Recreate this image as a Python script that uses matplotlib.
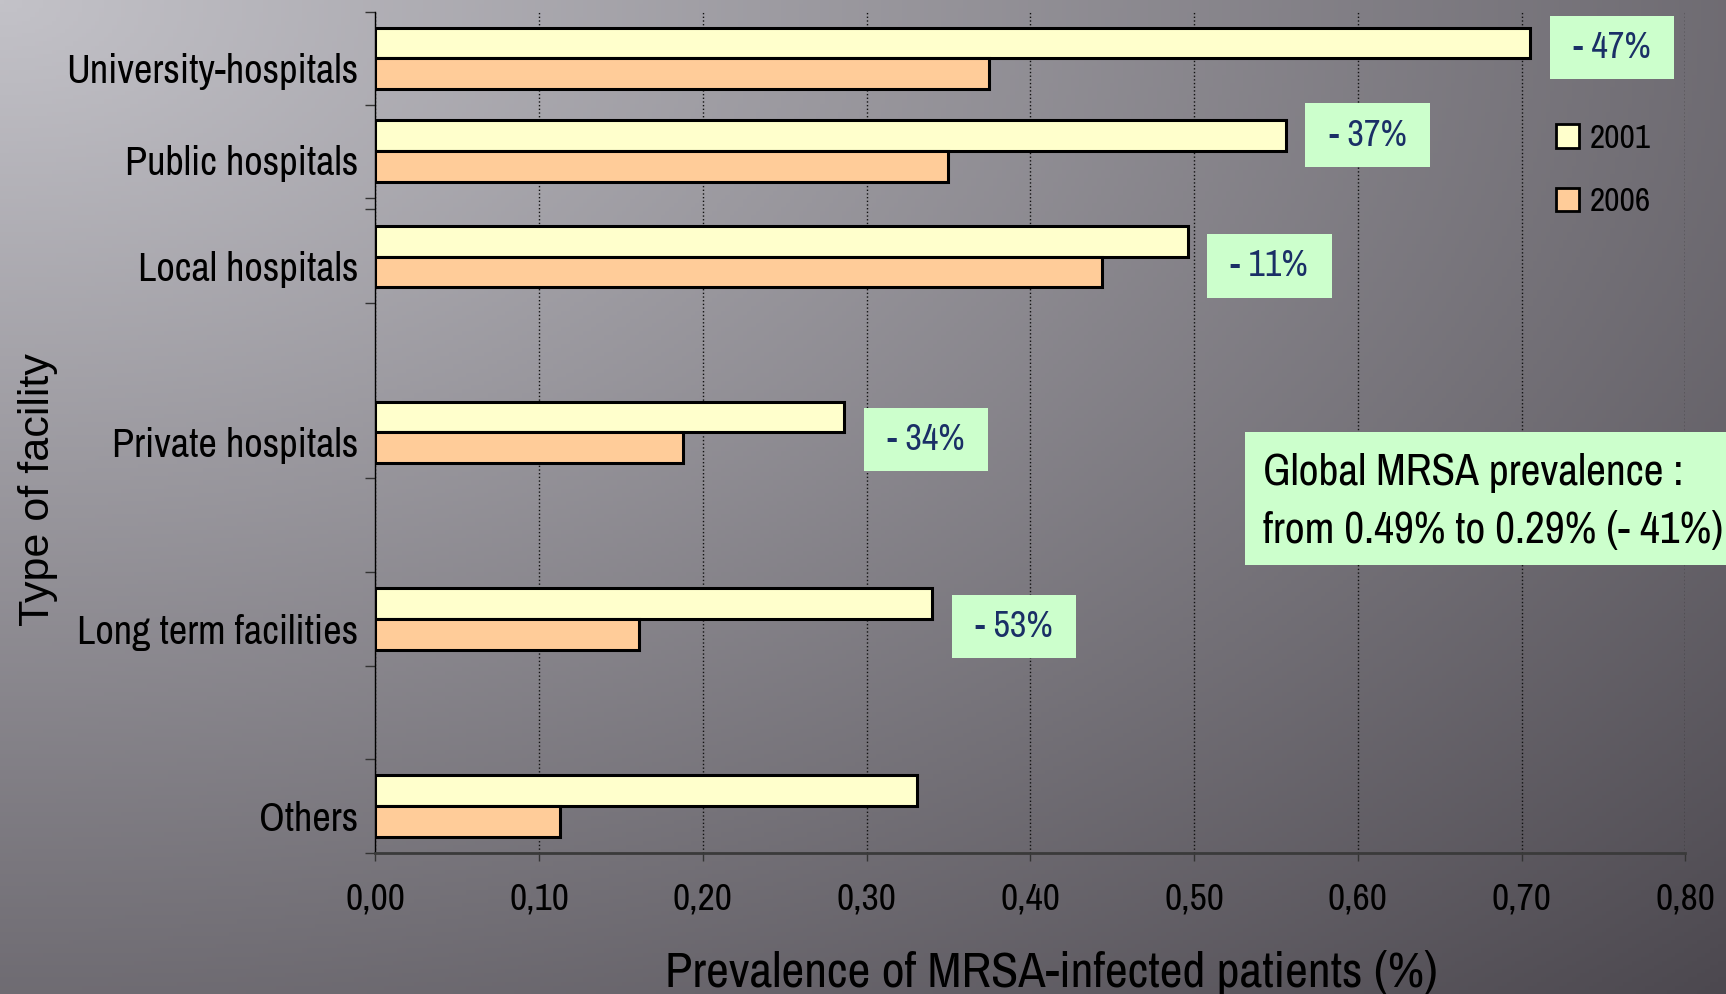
import numpy as np
import matplotlib
matplotlib.use("Agg")
import matplotlib.pyplot as plt
from matplotlib.patches import Rectangle, Patch
from matplotlib.colors import to_rgb

# data (prevalence in %)
facilities = ["University-hospitals", "Public hospitals", "Local hospitals",
              "Private hospitals", "Long term facilities", "Others"]
prev_2001 = [0.705, 0.556, 0.496, 0.286, 0.340, 0.331]
prev_2006 = [0.375, 0.350, 0.444, 0.188, 0.161, 0.113]
change_labels = ["- 47%", "- 37%", "- 11%", "- 34%", "- 53%", None]
years = ["2001", "2006"]
xticks = [0.0, 0.1, 0.2, 0.3, 0.4, 0.5, 0.6, 0.7, 0.8]

# layout: the groups are not evenly spaced in the original
y_pos = np.array([4.0, 3.505, 2.94, 2.0, 1.0, 0.0])
label_dy = [0.06, 0.085, -0.05, -0.04, -0.04, 0.0]
tick_marks = [4.25, 3.752, 3.255, 3.196, 2.693, 1.756, 1.253, 0.75, 0.253, -0.25]
bar_h = 0.165

narrow = ["Archivo Narrow", "DejaVu Sans"]
regular = ["Liberation Sans", "DejaVu Sans"]
plt.rcParams["font.family"] = narrow

W, H = 1726, 994
fig = plt.figure(figsize=(W / 100, H / 100), dpi=100)

# grey gradient background, light in the top-left corner
bg = fig.add_axes([0, 0, 1, 1], zorder=-10)
gx, gy = np.meshgrid(np.linspace(0, 1, 400), np.linspace(0, 1, 240))
d = np.sqrt(gx ** 2 + gy ** 2) / np.sqrt(2)
light = np.array(to_rgb("#c3c2c8"))
dark = np.array(to_rgb("#4c484f"))
img = light[None, None, :] + (dark - light)[None, None, :] * d[:, :, None]
bg.imshow(img, aspect="auto", extent=[0, 1, 0, 1], origin="upper")
bg.axis("off")

ax = fig.add_axes([375.4 / W, 1 - 853 / H, 1309.9 / W, 841.3 / H])
ax.patch.set_alpha(0)

ax.barh(y_pos + bar_h / 2, prev_2001, height=bar_h, color="#ffffcc",
        edgecolor="black", linewidth=2.2, zorder=3)
ax.barh(y_pos - bar_h / 2, prev_2006, height=bar_h, color="#ffcc99",
        edgecolor="black", linewidth=2.2, zorder=3)

for v, y, dy, lab in zip(prev_2001, y_pos, label_dy, change_labels):
    if lab is None:
        continue
    ax.text(v + 0.05, y + dy, " " + lab + " ", ha="center", va="center",
            fontsize=26, color="#1a2f66", zorder=4,
            bbox=dict(boxstyle="square,pad=0.42", fc="#ccffcc", ec="none"))

ax.set_xlim(0, 0.8)
ax.set_ylim(-0.25, 4.25)
ax.set_xticks(xticks)
ax.set_xticklabels([f"{t:.2f}".replace(".", ",") for t in xticks], fontsize=27)
ax.tick_params(axis="x", length=6, width=1, color="#333333", pad=15)
ax.set_yticks(y_pos - 0.05)
ax.set_yticklabels(facilities, fontsize=29)
ax.tick_params(axis="y", length=0, pad=12)
ax.set_yticks(tick_marks, minor=True)
ax.tick_params(axis="y", which="minor", length=7, width=1, color="#333333")

ax.xaxis.grid(True, linestyle=":", color="#111111", linewidth=1.0)
ax.set_axisbelow(True)
ax.spines["top"].set_visible(False)
ax.spines["right"].set_visible(False)
ax.spines["left"].set_color("black")
ax.spines["left"].set_linewidth(1)
ax.spines["bottom"].set_color("#3a3a3a")
ax.spines["bottom"].set_linewidth(2)

handles = [Patch(facecolor="#ffffcc", edgecolor="black", linewidth=2),
           Patch(facecolor="#ffcc99", edgecolor="black", linewidth=2)]
ax.legend(handles, years, loc="upper left", bbox_to_anchor=(0.9013, 0.867),
          frameon=False, fontsize=24, handlelength=0.7, handleheight=0.7,
          handletextpad=0.3, labelspacing=1.0, borderpad=0, borderaxespad=0)

fig.text(1051 / W, 1 - 987 / H, "Prevalence of MRSA-infected patients (%)",
         ha="center", va="baseline", fontsize=36)
fig.text(38 / W, 1 - 490 / H, "Type of facility", rotation=90,
         ha="center", va="center", fontsize=31, family=regular)

# global summary box, running off the right edge
fig.add_artist(Rectangle((1245 / W, 1 - 565 / H), 1 - 1245 / W, 133.5 / H,
                         transform=fig.transFigure, facecolor="#ccffcc",
                         edgecolor="none", zorder=5))
fig.text(1263 / W, 1 - 485 / H, "Global MRSA prevalence :", ha="left",
         va="baseline", fontsize=31.3, zorder=6)
fig.text(1263 / W, 1 - 543 / H, "from 0.49% to 0.29% (- 41%)", ha="left",
         va="baseline", fontsize=31.3, zorder=6)

fig.savefig("out.png", dpi=100)
